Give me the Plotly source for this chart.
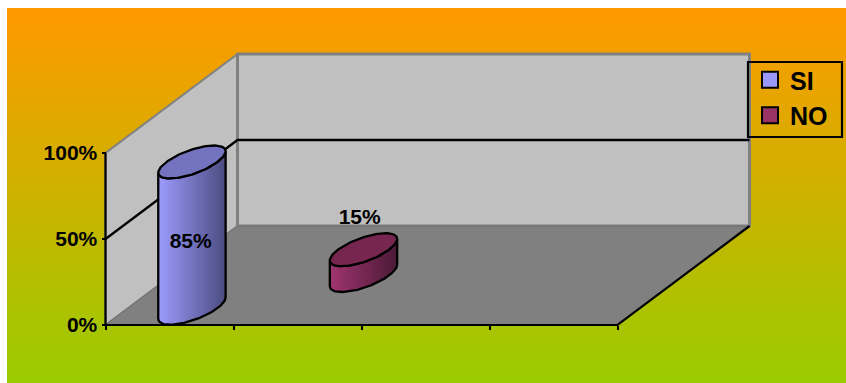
import numpy as np
import plotly.graph_objects as go

# ---- data ----
series_names = ["SI", "NO"]
series_values = [85, 15]
value_ticks = [0, 50, 100]
value_tick_labels = ["0%", "50%", "100%"]
category_ticks = [0, 1, 2, 3, 4]

# ---- styles ----
side_colors = [("#9C9CFF", "#4C4C80"), ("#A03570", "#4A1A35")]
top_colors = ["#7373BF", "#77264F"]
legend_colors = ["#9999FF", "#993366"]
FONT = "Liberation Sans, Arial, sans-serif"

# ---- layout geometry (figure fills the window, body margin removed) ----
W, H = 846, 383
BG_LEFT, BG_TOP = 7, 8
PX_CAT, PX_PCT = 128.0, 1.72
X0_PX, Y0_PX = 105.5, 325.0
DEPTH_X = 132.0 / PX_CAT
DEPTH_Y = 99.0 / PX_PCT
WALL_TOP = 100.0
CAT_MAX = 4.0
x_range = [-X0_PX / PX_CAT, (W - X0_PX) / PX_CAT]
y_range = [(Y0_PX - H) / PX_PCT, Y0_PX / PX_PCT]
bg_x = [(BG_LEFT - X0_PX) / PX_CAT, x_range[1]]
bg_y = [y_range[0], (Y0_PX - BG_TOP) / PX_PCT]
bar_pos = [0.5, 1.5]
bar_depth = [0.17, 0.5]
R_CAT = 25.5 / PX_CAT
R_DEPTH = 16.5 / 99.0


def proj(c, v, d):
    return c + d * DEPTH_X, v + d * DEPTH_Y


def poly(points):
    xs, ys = zip(*[proj(*p) for p in points])
    return list(xs), list(ys)


fig = go.Figure()


def add_poly(points, fill, line, width):
    x, y = poly(points)
    fig.add_trace(go.Scatter(x=x, y=y, mode="lines", fill="toself", fillcolor=fill,
                             line=dict(color=line, width=width), showlegend=False, hoverinfo="skip"))


def add_line(points, color, width):
    x, y = poly(points)
    fig.add_trace(go.Scatter(x=x, y=y, mode="lines", line=dict(color=color, width=width),
                             showlegend=False, hoverinfo="skip"))


# background gradient
fig.add_trace(go.Scatter(
    x=[bg_x[0], bg_x[1], bg_x[1], bg_x[0], bg_x[0]],
    y=[bg_y[0], bg_y[0], bg_y[1], bg_y[1], bg_y[0]],
    mode="lines", line=dict(width=0), fill="toself",
    fillgradient=dict(type="vertical", colorscale=[[0, "#99CC00"], [1, "#FF9900"]]),
    showlegend=False, hoverinfo="skip"))

# walls and floor
add_poly([(0, 0, 0), (0, WALL_TOP, 0), (0, WALL_TOP, 1), (0, 0, 1), (0, 0, 0)], "#C0C0C0", "#808080", 2)
add_poly([(0, 0, 1), (0, WALL_TOP, 1), (CAT_MAX, WALL_TOP, 1), (CAT_MAX, 0, 1), (0, 0, 1)], "#C0C0C0", "#808080", 3)
add_poly([(0, 0, 0), (0, 0, 1), (CAT_MAX, 0, 1), (CAT_MAX, 0, 0), (0, 0, 0)], "#808080", "#707070", 1)

# gridline at 50 %
add_line([(0, 50, 0), (0, 50, 1), (CAT_MAX, 50, 1)], "#000000", 2.3)

# axis lines
add_line([(0, 0, 0), (0, WALL_TOP, 0)], "#000000", 2.2)
add_line([(0, 0, 0), (CAT_MAX, 0, 0), (CAT_MAX, 0, 1)], "#000000", 2.2)

# cylinders
for name, val, c, d, sides, top in zip(series_names, series_values, bar_pos, bar_depth, side_colors, top_colors):
    t0 = np.arctan2(R_DEPTH * DEPTH_X, R_CAT)
    ell = lambda t, v: proj(c + R_CAT * np.cos(t), v, d + R_DEPTH * np.sin(t))
    front = np.linspace(t0, t0 - np.pi, 60)
    bx, by = ell(front, 0)
    tx, ty = ell(front[::-1], val)
    fig.add_trace(go.Scatter(
        x=np.r_[bx, tx, bx[0]], y=np.r_[by, ty, by[0]], mode="lines",
        line=dict(color="#000000", width=2.3), fill="toself",
        fillgradient=dict(type="horizontal", colorscale=[[0, sides[0]], [1, sides[1]]]),
        showlegend=False, hoverinfo="skip"))
    full = np.linspace(0, 2 * np.pi, 120)
    ex, ey = ell(full, val)
    fig.add_trace(go.Scatter(x=ex, y=ey, mode="lines", fill="toself", fillcolor=top,
                             line=dict(color="#000000", width=2.3), showlegend=False, hoverinfo="skip"))

# data labels
label_offsets = [-46.7, 18.0]
label_shift = [-0.01, -0.03]
for val, c, d, off, sh in zip(series_values, bar_pos, bar_depth, label_offsets, label_shift):
    lx, ly = proj(c + sh, val + off, d)
    fig.add_trace(go.Scatter(x=[lx], y=[ly], mode="text", text=[f"{val}%"], textposition="middle center",
                             textfont=dict(family=FONT, size=21, color="#000000", weight="bold"),
                             showlegend=False, hoverinfo="skip"))

# legend entries
for name, col in zip(series_names, legend_colors):
    fig.add_trace(go.Scatter(x=[None], y=[None], mode="markers", name=name,
                             marker=dict(symbol="square", size=16, color=col,
                                         line=dict(color="#000000", width=2))))

# legend frame
LEG_BOX = (748, 842, 62, 137)
fig.add_shape(type="rect", xref="paper", yref="paper",
              x0=LEG_BOX[0] / W, x1=LEG_BOX[1] / W, y0=1 - LEG_BOX[3] / H, y1=1 - LEG_BOX[2] / H,
              line=dict(color="#000000", width=2.2), fillcolor="rgba(0,0,0,0)")

fig.update_layout(
    width=W, height=H, autosize=False,
    margin=dict(l=0, r=0, t=0, b=0, pad=0),
    paper_bgcolor="#FFFFFF", plot_bgcolor="rgba(0,0,0,0)",
    font=dict(family=FONT, color="#000000"),
    xaxis=dict(range=x_range, domain=[0, 1], anchor="free", position=(H - Y0_PX) / H,
               tickmode="array", tickvals=category_ticks, ticktext=[""] * 5,
               ticks="outside", ticklen=4, tickwidth=2, tickcolor="#000000",
               showgrid=False, zeroline=False, showline=False, fixedrange=True),
    yaxis=dict(range=y_range, domain=[0, 1], anchor="free", position=X0_PX / W,
               tickmode="array", tickvals=value_ticks, ticktext=value_tick_labels,
               ticks="outside", ticklen=4, tickwidth=2, tickcolor="#000000",
               tickfont=dict(family=FONT, size=21, color="#000000", weight="bold"),
               showgrid=False, zeroline=False, showline=False, fixedrange=True),
    showlegend=True,
    legend=dict(x=750 / W, y=1 - 57 / H, xanchor="left", yanchor="top",
                bgcolor="rgba(0,0,0,0)", borderwidth=0,
                font=dict(family=FONT, size=25, color="#000000", weight="bold"),
                itemwidth=30, tracegroupgap=0),
)

fig.write_html("out.html", post_script="document.body.style.margin='0';",
               config={"displayModeBar": False})
